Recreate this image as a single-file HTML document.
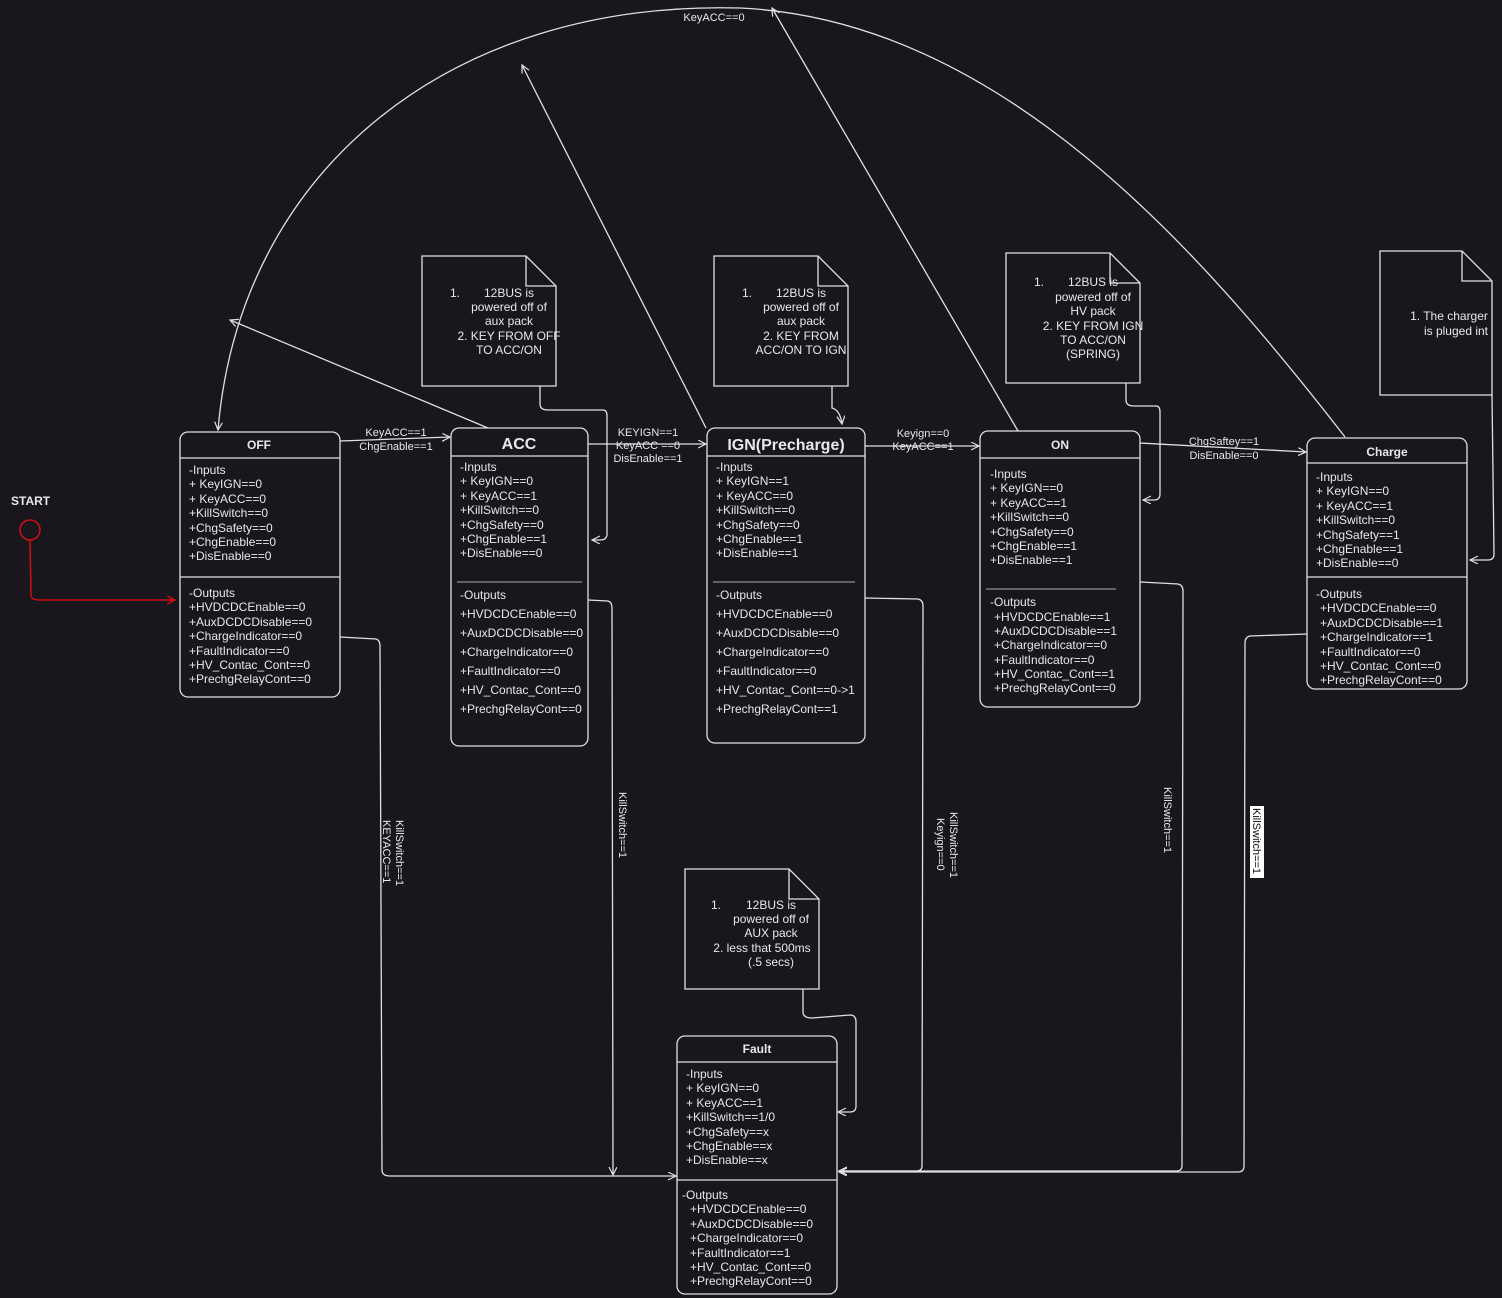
<!DOCTYPE html>
<html><head><meta charset="utf-8"><style>
html,body{margin:0;padding:0;background:#19171d;}
svg{display:block}
text{font-family:"Liberation Sans",Arial,sans-serif;fill:#e8e8e8;font-size:12px}
.b{font-weight:bold}
.l{stroke:#e0e0e0;stroke-width:1.3;fill:none}
</style></head><body>
<svg width="1502" height="1298" viewBox="0 0 1502 1298" xmlns="http://www.w3.org/2000/svg">
<defs>
<marker id="a" markerWidth="10" markerHeight="10" refX="8" refY="4" orient="auto" markerUnits="userSpaceOnUse"><path d="M0,0 L8,4 L0,8" fill="none" stroke="#e0e0e0" stroke-width="1.2"/></marker>
<marker id="r" markerWidth="10" markerHeight="10" refX="8" refY="4" orient="auto" markerUnits="userSpaceOnUse"><path d="M0,0 L8,4 L0,8" fill="none" stroke="#d01010" stroke-width="1.3"/></marker>
</defs>

<!-- START -->
<text x="11" y="505" class="b" style="font-size:12px">START</text>
<circle cx="30" cy="530" r="10" fill="none" stroke="#d01010" stroke-width="1.5"/>
<path d="M30,540 L31,596 Q32,600 40,600 L175,600" stroke="#d01010" stroke-width="1.5" fill="none" marker-end="url(#r)"/>

<!-- Boxes -->
<g class="l">
<rect x="180" y="432" width="160" height="265" rx="8"/><line x1="180" y1="458" x2="340" y2="458"/><line x1="180" y1="577" x2="340" y2="577"/>
<rect x="451" y="428" width="137" height="318" rx="8"/><line x1="451" y1="456" x2="588" y2="456"/><line x1="457" y1="582" x2="582" y2="582" stroke-width="0.8"/>
<rect x="707" y="428" width="158" height="315" rx="8"/><line x1="707" y1="456" x2="865" y2="456"/><line x1="713" y1="582" x2="855" y2="582" stroke-width="0.8"/>
<rect x="980" y="431" width="160" height="276" rx="8"/><line x1="980" y1="458" x2="1140" y2="458"/><line x1="986" y1="589" x2="1116" y2="589" stroke-width="0.8"/>
<rect x="1307" y="438" width="160" height="251" rx="8"/><line x1="1307" y1="463" x2="1467" y2="463"/><line x1="1307" y1="577" x2="1467" y2="577"/>
<rect x="677" y="1036" width="160" height="258" rx="8"/><line x1="677" y1="1062" x2="837" y2="1062"/><line x1="677" y1="1180" x2="837" y2="1180"/>
</g>

<!-- Notes -->
<g class="l">
<path d="M422,256 L526,256 L556,286 L556,386 L422,386 Z"/><path d="M526,256 L526,286 L556,286"/>
<path d="M714,256 L818,256 L848,286 L848,386 L714,386 Z"/><path d="M818,256 L818,286 L848,286"/>
<path d="M1006,253 L1110,253 L1140,283 L1140,383 L1006,383 Z"/><path d="M1110,253 L1110,283 L1140,283"/>
<path d="M1380,251 L1462,251 L1492,281 L1492,395 L1380,395 Z"/><path d="M1462,251 L1462,281 L1492,281"/>
<path d="M685,869 L789,869 L819,899 L819,989 L685,989 Z"/><path d="M789,869 L789,899 L819,899"/>
</g>
<g text-anchor="middle">
<text x="455" y="297">1.</text><text x="509" y="297">12BUS is</text><text x="509" y="311">powered off of</text><text x="509" y="325">aux pack</text><text x="509" y="340">2.  KEY FROM OFF</text><text x="509" y="354">TO ACC/ON</text>
<text x="747" y="297">1.</text><text x="801" y="297">12BUS is</text><text x="801" y="311">powered off of</text><text x="801" y="325">aux pack</text><text x="801" y="340">2.    KEY FROM</text><text x="801" y="354">ACC/ON TO IGN</text>
<text x="1039" y="286">1.</text><text x="1093" y="286">12BUS is</text><text x="1093" y="301">powered off of</text><text x="1093" y="315">HV pack</text><text x="1093" y="330">2.  KEY FROM IGN</text><text x="1093" y="344">TO ACC/ON</text><text x="1093" y="358">(SPRING)</text>
<text x="1449" y="320">1.  The charger</text><text x="1456" y="335">is pluged int</text>
<text x="716" y="909">1.</text><text x="771" y="909">12BUS is</text><text x="771" y="923">powered off of</text><text x="771" y="937">AUX pack</text><text x="762" y="952">2.  less that 500ms</text><text x="771" y="966">(.5 secs)</text>
</g>

<!-- Titles -->
<text x="259" y="449" class="b" text-anchor="middle">OFF</text>
<text x="519" y="449" class="b" text-anchor="middle" style="font-size:16px">ACC</text>
<text x="786" y="450" class="b" text-anchor="middle" style="font-size:16px">IGN(Precharge)</text>
<text x="1060" y="449" class="b" text-anchor="middle">ON</text>
<text x="1387" y="456" class="b" text-anchor="middle">Charge</text>
<text x="757" y="1053" class="b" text-anchor="middle">Fault</text>

<!-- OFF -->
<g>
<text x="189" y="474">-Inputs</text><text x="189" y="488">+ KeyIGN==0</text><text x="189" y="503">+ KeyACC==0</text><text x="189" y="517">+KillSwitch==0</text><text x="189" y="532">+ChgSafety==0</text><text x="189" y="546">+ChgEnable==0</text><text x="189" y="560">+DisEnable==0</text>
<text x="189" y="597">-Outputs</text><text x="189" y="611">+HVDCDCEnable==0</text><text x="189" y="626">+AuxDCDCDisable==0</text><text x="189" y="640">+ChargeIndicator==0</text><text x="189" y="655">+FaultIndicator==0</text><text x="189" y="669">+HV_Contac_Cont==0</text><text x="189" y="683">+PrechgRelayCont==0</text>
</g>
<!-- ACC -->
<g>
<text x="460" y="471">-Inputs</text><text x="460" y="485">+ KeyIGN==0</text><text x="460" y="500">+ KeyACC==1</text><text x="460" y="514">+KillSwitch==0</text><text x="460" y="529">+ChgSafety==0</text><text x="460" y="543">+ChgEnable==1</text><text x="460" y="557">+DisEnable==0</text>
<text x="460" y="599">-Outputs</text><text x="460" y="618">+HVDCDCEnable==0</text><text x="460" y="637">+AuxDCDCDisable==0</text><text x="460" y="656">+ChargeIndicator==0</text><text x="460" y="675">+FaultIndicator==0</text><text x="460" y="694">+HV_Contac_Cont==0</text><text x="460" y="713">+PrechgRelayCont==0</text>
</g>
<!-- IGN -->
<g>
<text x="716" y="471">-Inputs</text><text x="716" y="485">+ KeyIGN==1</text><text x="716" y="500">+ KeyACC==0</text><text x="716" y="514">+KillSwitch==0</text><text x="716" y="529">+ChgSafety==0</text><text x="716" y="543">+ChgEnable==1</text><text x="716" y="557">+DisEnable==1</text>
<text x="716" y="599">-Outputs</text><text x="716" y="618">+HVDCDCEnable==0</text><text x="716" y="637">+AuxDCDCDisable==0</text><text x="716" y="656">+ChargeIndicator==0</text><text x="716" y="675">+FaultIndicator==0</text><text x="716" y="694">+HV_Contac_Cont==0-&gt;1</text><text x="716" y="713">+PrechgRelayCont==1</text>
</g>
<!-- ON -->
<g>
<text x="990" y="478">-Inputs</text><text x="990" y="492">+ KeyIGN==0</text><text x="990" y="507">+ KeyACC==1</text><text x="990" y="521">+KillSwitch==0</text><text x="990" y="536">+ChgSafety==0</text><text x="990" y="550">+ChgEnable==1</text><text x="990" y="564">+DisEnable==1</text>
<text x="990" y="606">-Outputs</text><text x="994" y="621">+HVDCDCEnable==1</text><text x="994" y="635">+AuxDCDCDisable==1</text><text x="994" y="649">+ChargeIndicator==0</text><text x="994" y="664">+FaultIndicator==0</text><text x="994" y="678">+HV_Contac_Cont==1</text><text x="994" y="692">+PrechgRelayCont==0</text>
</g>
<!-- Charge -->
<g>
<text x="1316" y="481">-Inputs</text><text x="1316" y="495"> + KeyIGN==0</text><text x="1316" y="510"> + KeyACC==1</text><text x="1316" y="524">+KillSwitch==0</text><text x="1316" y="539">+ChgSafety==1</text><text x="1316" y="553">+ChgEnable==1</text><text x="1316" y="567">+DisEnable==0</text>
<text x="1316" y="598">-Outputs</text><text x="1320" y="612">+HVDCDCEnable==0</text><text x="1320" y="627">+AuxDCDCDisable==1</text><text x="1320" y="641">+ChargeIndicator==1</text><text x="1320" y="656">+FaultIndicator==0</text><text x="1320" y="670">+HV_Contac_Cont==0</text><text x="1320" y="684">+PrechgRelayCont==0</text>
</g>
<!-- Fault -->
<g>
<text x="686" y="1078">-Inputs</text><text x="686" y="1092">+ KeyIGN==0</text><text x="686" y="1107">+ KeyACC==1</text><text x="686" y="1121">+KillSwitch==1/0</text><text x="686" y="1136">+ChgSafety==x</text><text x="686" y="1150">+ChgEnable==x</text><text x="686" y="1164">+DisEnable==x</text>
<text x="682" y="1199">-Outputs</text><text x="690" y="1213">+HVDCDCEnable==0</text><text x="690" y="1228">+AuxDCDCDisable==0</text><text x="690" y="1242">+ChargeIndicator==0</text><text x="690" y="1257">+FaultIndicator==1</text><text x="690" y="1271">+HV_Contac_Cont==0</text><text x="690" y="1285">+PrechgRelayCont==0</text>
</g>

<!-- Connectors -->
<g class="l">
<path d="M340,441 L450,437" marker-end="url(#a)"/>
<path d="M588,444 L706,444" marker-end="url(#a)"/>
<path d="M865,446 L979,446" marker-end="url(#a)"/>
<path d="M1140,443 L1306,452" marker-end="url(#a)"/>
<path d="M1345,437 C1200,250 1000,20 740,8 C450,0 240,170 218,430" marker-end="url(#a)"/>
<path d="M488,428 L230,320" marker-end="url(#a)"/>
<path d="M706,428 L522,65" marker-end="url(#a)"/>
<path d="M1018,431 L772,8" marker-end="url(#a)"/>
<path d="M540,386 L540,404 Q540,410 548,410 L603,410 Q607,410 607,416 L607,534 Q607,540 600,540 L592,540" marker-end="url(#a)"/>
<path d="M832,386 L832,408 Q840,410 842,424" marker-end="url(#a)"/>
<path d="M1126,383 L1126,400 Q1126,406 1134,406 L1156,406 Q1160,406 1160,412 L1160,494 Q1160,500 1154,500 L1143,500" marker-end="url(#a)"/>
<path d="M1492,395 L1494,554 Q1494,560 1488,560 L1470,560" marker-end="url(#a)"/>
<path d="M803,989 L803,1012 Q803,1018 812,1018 L850,1015 Q856,1015 856,1022 L856,1106 Q856,1112 850,1112 L838,1112" marker-end="url(#a)"/>
<path d="M340,637 L376,639 Q380,640 380,646 L382,1170 Q382,1176 390,1176 L676,1176" marker-end="url(#a)"/>
<path d="M588,600 L608,601 Q612,602 612,608 L613,1175" marker-end="url(#a)"/>
<path d="M865,598 L918,599 Q923,600 923,606 L922,1166 Q922,1171 916,1171 L839,1171" marker-end="url(#a)"/>
<path d="M1140,582 L1178,584 Q1183,585 1183,591 L1182,1166 Q1182,1171 1176,1171 L839,1171" marker-end="url(#a)"/>
<path d="M1307,634 L1250,636 Q1245,637 1245,643 L1244,1166 Q1244,1172 1238,1172 L839,1172" marker-end="url(#a)"/>
</g>

<!-- connector labels -->
<g text-anchor="middle" style="font-size:11px">
<text x="396" y="436" style="font-size:11px">KeyACC==1</text><text x="396" y="450" style="font-size:11px">ChgEnable==1</text>
<text x="648" y="436" style="font-size:11px">KEYIGN==1</text><text x="648" y="449" style="font-size:11px">KeyACC ==0</text><text x="648" y="462" style="font-size:11px">DisEnable==1</text>
<text x="923" y="437" style="font-size:11px">Keyign==0</text><text x="923" y="450" style="font-size:11px">KeyACC==1</text>
<text x="1224" y="445" style="font-size:11px">ChgSaftey==1</text><text x="1224" y="459" style="font-size:11px">DisEnable==0</text>
<text x="714" y="21" style="font-size:11px">KeyACC==0</text>
</g>
<rect x="1250" y="806" width="14" height="72" fill="#ffffff"/>
<g style="font-size:11px">
<text transform="translate(396,820) rotate(90)" style="font-size:11px">KillSwitch==1</text>
<text transform="translate(383,820) rotate(90)" style="font-size:11px">KEYACC==1</text>
<text transform="translate(619,792) rotate(90)" style="font-size:11px">KillSwitch==1</text>
<text transform="translate(950,812) rotate(90)" style="font-size:11px">KillSwitch==1</text>
<text transform="translate(937,818) rotate(90)" style="font-size:11px">Keyign==0</text>
<text transform="translate(1164,787) rotate(90)" style="font-size:11px">KillSwitch==1</text>
<text transform="translate(1253,808) rotate(90)" style="font-size:11px;fill:#111">KillSwitch==1</text>
</g>
</svg>
</body></html>
